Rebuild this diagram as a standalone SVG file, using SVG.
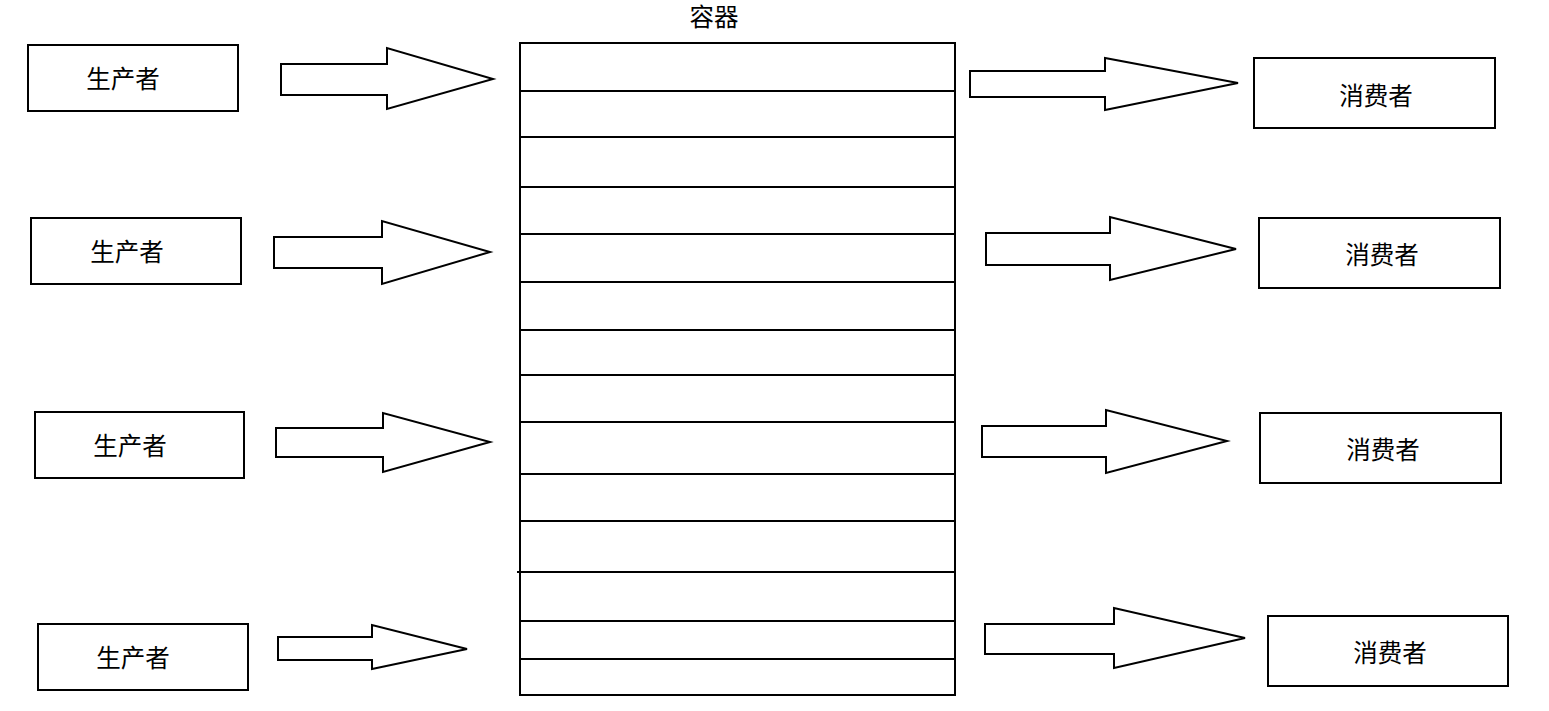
<svg xmlns="http://www.w3.org/2000/svg" width="1549" height="711" viewBox="0 0 1549 711">
<style>
.box{fill:#fff;stroke:#000;stroke-width:2}
.arr{fill:#fff;stroke:#000;stroke-width:2;stroke-linejoin:miter}
.ln{stroke:#000;stroke-width:2}
.t{font-family:"Liberation Serif","Noto Sans CJK SC",serif;font-size:24.5px;fill:#000;text-anchor:middle;dominant-baseline:central}
</style>
<rect width="1549" height="711" fill="#fff"/>
<g id="container">
<text class="t" x="714" y="17">容器</text>
<rect class="box" x="520" y="43" width="435" height="652"/>
<line class="ln" x1="520" y1="91" x2="955" y2="91"/>
<line class="ln" x1="520" y1="137" x2="955" y2="137"/>
<line class="ln" x1="520" y1="187" x2="955" y2="187"/>
<line class="ln" x1="520" y1="234" x2="955" y2="234"/>
<line class="ln" x1="520" y1="282" x2="955" y2="282"/>
<line class="ln" x1="520" y1="330" x2="955" y2="330"/>
<line class="ln" x1="520" y1="375" x2="955" y2="375"/>
<line class="ln" x1="520" y1="422" x2="955" y2="422"/>
<line class="ln" x1="520" y1="474" x2="955" y2="474"/>
<line class="ln" x1="520" y1="521" x2="955" y2="521"/>
<line class="ln" x1="517" y1="572" x2="955" y2="572"/>
<line class="ln" x1="520" y1="621" x2="955" y2="621"/>
<line class="ln" x1="520" y1="659" x2="955" y2="659"/>
</g>
<g id="producer1"><rect class="box" x="28" y="45" width="210" height="66"/><text class="t" x="123" y="79">生产者</text></g>
<g id="producer2"><rect class="box" x="31" y="218" width="210" height="66"/><text class="t" x="127" y="252">生产者</text></g>
<g id="producer3"><rect class="box" x="35" y="412" width="209" height="66"/><text class="t" x="130" y="446">生产者</text></g>
<g id="producer4"><rect class="box" x="38" y="624" width="210" height="66"/><text class="t" x="133" y="658">生产者</text></g>
<g id="consumer1"><rect class="box" x="1254" y="58" width="241" height="70"/><text class="t" x="1376" y="96">消费者</text></g>
<g id="consumer2"><rect class="box" x="1259" y="218" width="241" height="70"/><text class="t" x="1382" y="255">消费者</text></g>
<g id="consumer3"><rect class="box" x="1260" y="413" width="241" height="70"/><text class="t" x="1383" y="450">消费者</text></g>
<g id="consumer4"><rect class="box" x="1268" y="616" width="240" height="70"/><text class="t" x="1390" y="653">消费者</text></g>
<g id="connectors">
<polygon class="arr" points="281,64 387,64 387,48 493,79 387,109 387,95 281,95"/>
<polygon class="arr" points="274,237 382,237 382,221 490,252 382,284 382,268 274,268"/>
<polygon class="arr" points="276,428 383,428 383,413 490,442 383,472 383,457 276,457"/>
<polygon class="arr" points="278,637 372,637 372,625 467,649 372,669 372,660 278,660"/>
<polygon class="arr" points="970,71 1105,71 1105,58 1238,83 1105,110 1105,97 970,97"/>
<polygon class="arr" points="986,233 1110,233 1110,217 1236,249 1110,280 1110,265 986,265"/>
<polygon class="arr" points="982,426 1106,426 1106,410 1227,441 1106,473 1106,457 982,457"/>
<polygon class="arr" points="985,624 1114,624 1114,608 1245,638 1114,668 1114,654 985,654"/>
</g>
</svg>
